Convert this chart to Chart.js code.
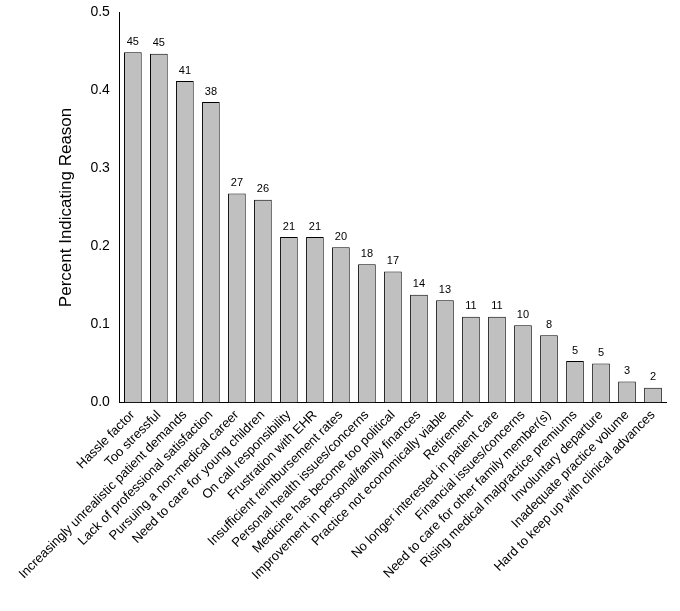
<!DOCTYPE html>
<html>
<head>
<meta charset="utf-8">
<script src="https://cdn.jsdelivr.net/npm/chart.js@4"></script>
<style>
  html, body { margin: 0; padding: 0; background: #fff; }
  #wrap { width: 680px; height: 611px; }
</style>
</head>
<body>
<div id="wrap"><canvas id="myChart"></canvas></div>
<script>
const reasons = [
  "Hassle factor", "Too stressful", "Increasingly unrealistic patient demands",
  "Lack of professional satisfaction", "Pursuing a non-medical career",
  "Need to care for young children", "On call responsibility", "Frustration with EHR",
  "Insufficient reimbursement rates", "Personal health issues/concerns",
  "Medicine has become too political", "Improvement in personal/family finances",
  "Practice not economically viable", "Retirement", "No longer interested in patient care",
  "Financial issues/concerns", "Need to care for other family member(s)",
  "Rising medical malpractice premiums", "Involuntary departure",
  "Inadequate practice volume", "Hard to keep up with clinical advances"
];
const percents = [0.449, 0.447, 0.412, 0.385, 0.268, 0.260, 0.212, 0.212, 0.199, 0.177,
  0.168, 0.138, 0.131, 0.110, 0.110, 0.099, 0.086, 0.053, 0.050, 0.027, 0.019];
const counts = [45, 45, 41, 38, 27, 26, 21, 21, 20, 18, 17, 14, 13, 11, 11, 10, 8, 5, 5, 3, 2];

const countLabels = {
  id: "countLabels",
  afterDatasetsDraw(chart) {
    const c = chart.ctx;
    const meta = chart.getDatasetMeta(0);
    c.save();
    c.font = "11px 'Liberation Sans', Arial, sans-serif";
    c.fillStyle = "#000";
    c.textAlign = "center";
    c.textBaseline = "bottom";
    meta.data.forEach((bar, i) => {
      c.fillText(counts[i], bar.x, bar.y - 5);
    });
    c.restore();
  }
};

Chart.defaults.font.family = "'Liberation Sans', Arial, sans-serif";
Chart.defaults.color = "#000";

const ctx = document.getElementById("myChart").getContext("2d");
const myChart = new Chart(ctx, {
  type: "bar",
  data: {
    labels: reasons,
    datasets: [{
      data: percents,
      backgroundColor: "#c0c0c0",
      borderColor: "#000",
      borderWidth: 1,
      barPercentage: 0.68,
      categoryPercentage: 1
    }]
  },
  options: {
    responsive: true,
    maintainAspectRatio: false,
    animation: false,
    layout: { padding: { top: 7, right: 14, left: 52, bottom: 28 } },
    plugins: { legend: { display: false }, tooltip: { enabled: false } },
    scales: {
      x: {
        grid: { display: false, drawTicks: true, tickLength: 5 },
        border: { color: "#000" },
        ticks: { minRotation: 45, maxRotation: 45, autoSkip: false, font: { size: 13 }, padding: 0 }
      },
      y: {
        min: 0, max: 0.5,
        grid: { display: false, drawTicks: true, tickLength: 6 },
        border: { color: "#000" },
        ticks: { stepSize: 0.1, font: { size: 14 }, padding: 4, callback: v => v.toFixed(1) },
        title: { display: true, text: "Percent Indicating Reason", font: { size: 17 }, padding: { bottom: 10 } }
      }
    }
  },
  plugins: [countLabels]
});
</script>
</body>
</html>
